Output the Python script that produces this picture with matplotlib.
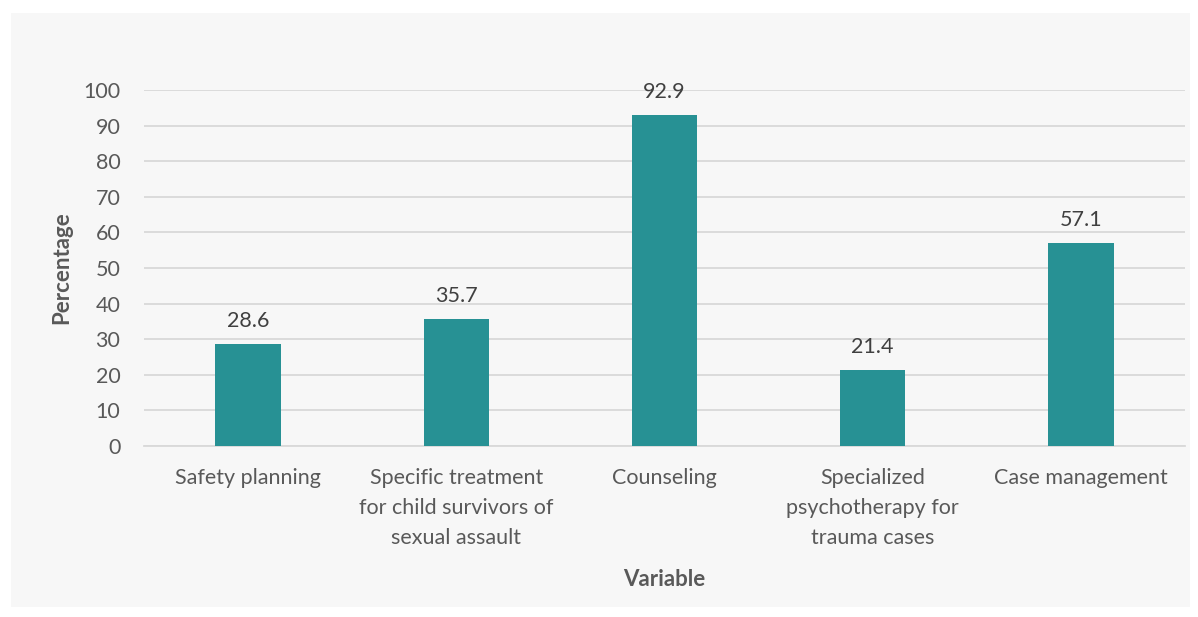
"""
Percentage of facilities offering each service, as a teal bar chart
on a light grey panel.
"""
import matplotlib.pyplot as plt
from matplotlib.patches import Rectangle

CATEGORIES = [
    "Safety planning",
    "Specific treatment\nfor child survivors of\nsexual assault",
    "Counseling",
    "Specialized\npsychotherapy for\ntrauma cases",
    "Case management",
]
VALUES = [28.6, 35.7, 92.9, 21.4, 57.1]
Y_TICKS = list(range(0, 101, 10))

BAR_COLOUR = "#279194"
TEXT_COLOUR = "#595959"
GRID_COLOUR = "#d9d9d9"
PANEL_COLOUR = "#f7f7f7"

plt.rcParams["font.family"] = ["Lato", "DejaVu Sans"]

fig = plt.figure(figsize=(11.98, 6.17), dpi=100)
fig.patch.set_facecolor("white")
fig.patches.append(Rectangle(
    (11 / 1198, 1 - 607 / 617), 1179 / 1198, 594 / 617,
    transform=fig.transFigure, facecolor=PANEL_COLOUR, edgecolor="none",
    zorder=-10))

ax = fig.add_axes([144 / 1198, 1 - 446 / 617, 1041 / 1198, 356 / 617])
ax.set_facecolor("none")

positions = range(len(CATEGORIES))
bars = ax.bar(positions, VALUES, width=0.315, color=BAR_COLOUR, zorder=3)
for bar, value in zip(bars, VALUES):
    ax.text(bar.get_x() + bar.get_width() / 2, value + 3.6, f"{value}",
            ha="center", va="bottom", fontsize=15.5, color="#404040")

ax.set_xlim(-0.5, len(CATEGORIES) - 0.5)
ax.set_ylim(0, 100)
ax.set_yticks(Y_TICKS)
ax.set_xticks(list(positions))
ax.set_xticklabels(CATEGORIES, linespacing=1.62)
ax.tick_params(axis="both", length=0, labelsize=15.5, colors=TEXT_COLOUR)
ax.tick_params(axis="y", pad=17)
ax.tick_params(axis="x", pad=16)
for label in ax.get_xticklabels():
    label.set_verticalalignment("top")

ax.grid(axis="y", color=GRID_COLOUR, linewidth=1.3, zorder=0)
for side in ("top", "right", "left"):
    ax.spines[side].set_visible(False)
ax.spines["bottom"].set_color(GRID_COLOUR)
ax.spines["bottom"].set_linewidth(1.3)

ax.set_ylabel("Percentage", fontsize=16, fontweight="bold",
              color=TEXT_COLOUR, labelpad=8)
ax.set_xlabel("Variable", fontsize=16, fontweight="bold",
              color=TEXT_COLOUR, labelpad=15)

fig.savefig("out.png", dpi=100, facecolor=fig.get_facecolor())
